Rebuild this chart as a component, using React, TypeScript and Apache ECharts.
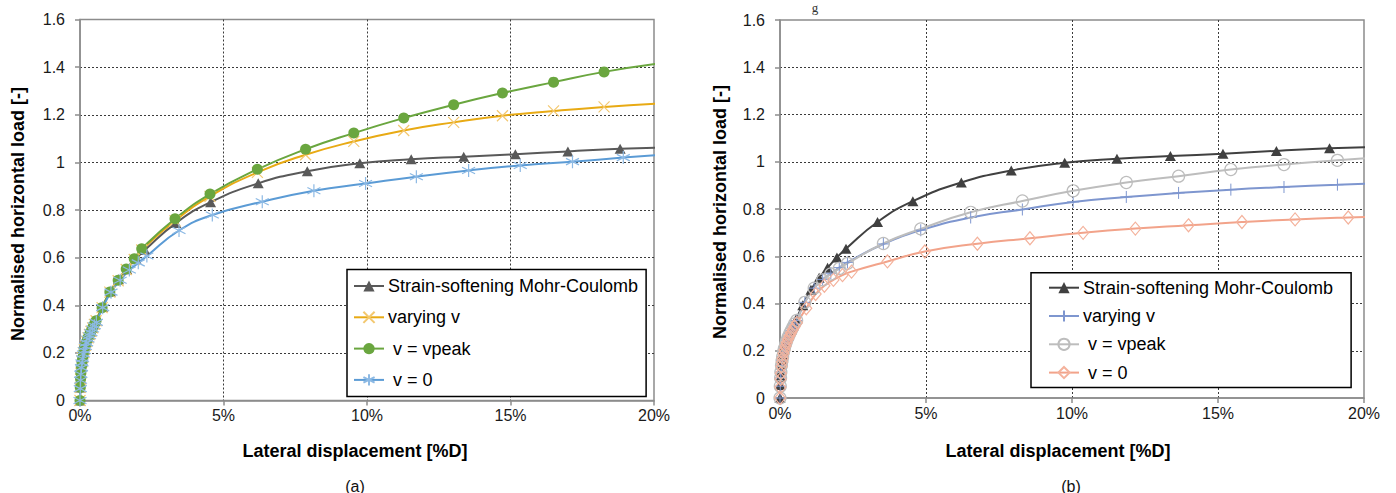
import React, { useEffect, useRef } from "react";
import * as echarts from "echarts";

const FONT = '"Liberation Sans", Arial, Helvetica, sans-serif';

// ---------- Shared: Strain-softening Mohr-Coulomb ----------
const mcX = [0, 0.01, 0.02, 0.03, 0.05, 0.07, 0.09, 0.12, 0.15, 0.19, 0.23, 0.28, 0.33, 0.38, 0.44, 0.5, 0.56, 0.78, 1.06, 1.34, 1.63, 1.95, 2.26, 3.34, 4.55, 6.21, 7.92, 9.75, 11.54, 13.37, 15.17, 17.0, 18.82, 20.64];
const mcY = [0, 0.055, 0.09, 0.115, 0.143, 0.163, 0.18, 0.2, 0.215, 0.232, 0.247, 0.263, 0.277, 0.29, 0.305, 0.32, 0.335, 0.393, 0.458, 0.509, 0.551, 0.595, 0.632, 0.745, 0.833, 0.912, 0.963, 0.996, 1.013, 1.024, 1.034, 1.046, 1.057, 1.062];

// ---------- Chart (a) ----------
const aPeakX = [0, 0.01, 0.02, 0.03, 0.05, 0.07, 0.09, 0.12, 0.15, 0.19, 0.23, 0.28, 0.33, 0.38, 0.44, 0.5, 0.56, 0.77, 1.04, 1.33, 1.61, 1.89, 2.15, 3.31, 4.53, 6.18, 7.86, 9.54, 11.28, 13.02, 14.72, 16.5, 18.26, 20.1];
const aPeakY = [0, 0.055, 0.09, 0.115, 0.143, 0.163, 0.18, 0.2, 0.215, 0.232, 0.247, 0.263, 0.277, 0.29, 0.305, 0.32, 0.335, 0.39, 0.456, 0.505, 0.552, 0.595, 0.637, 0.763, 0.867, 0.971, 1.055, 1.123, 1.186, 1.242, 1.291, 1.337, 1.38, 1.414];
const aVaryX = [0, 0.01, 0.02, 0.03, 0.05, 0.07, 0.09, 0.12, 0.15, 0.19, 0.23, 0.28, 0.33, 0.38, 0.44, 0.5, 0.56, 0.77, 1.04, 1.33, 1.61, 1.89, 2.15, 3.31, 4.53, 6.18, 7.86, 9.54, 11.28, 13.02, 14.72, 16.5, 18.26, 20.1];
const aVaryY = [0, 0.055, 0.09, 0.115, 0.143, 0.163, 0.18, 0.2, 0.215, 0.232, 0.247, 0.263, 0.277, 0.29, 0.305, 0.32, 0.335, 0.39, 0.455, 0.503, 0.55, 0.592, 0.632, 0.755, 0.857, 0.958, 1.032, 1.088, 1.134, 1.168, 1.196, 1.216, 1.233, 1.247];
const aZeroX = [0, 0.01, 0.02, 0.03, 0.05, 0.07, 0.09, 0.12, 0.15, 0.19, 0.23, 0.28, 0.33, 0.38, 0.44, 0.5, 0.57, 0.79, 1.08, 1.4, 1.72, 2.03, 2.33, 3.45, 4.61, 6.35, 8.15, 9.95, 11.72, 13.54, 15.34, 17.16, 18.93, 20.73];
const aZeroY = [0, 0.05, 0.085, 0.11, 0.138, 0.158, 0.175, 0.195, 0.21, 0.227, 0.242, 0.258, 0.272, 0.285, 0.3, 0.314, 0.328, 0.39, 0.455, 0.505, 0.548, 0.578, 0.607, 0.714, 0.779, 0.835, 0.881, 0.911, 0.94, 0.966, 0.987, 1.003, 1.02, 1.036];

// ---------- Chart (b) ----------
const bPeakX = [0, 0.01, 0.02, 0.03, 0.05, 0.07, 0.09, 0.12, 0.15, 0.19, 0.23, 0.28, 0.33, 0.38, 0.44, 0.5, 0.57, 0.85, 1.17, 1.46, 1.74, 2.03, 2.31, 3.54, 4.82, 6.53, 8.3, 10.04, 11.86, 13.65, 15.44, 17.26, 19.09, 20.9];
const bPeakY = [0, 0.05, 0.085, 0.11, 0.138, 0.158, 0.175, 0.195, 0.21, 0.227, 0.242, 0.258, 0.272, 0.285, 0.3, 0.314, 0.328, 0.405, 0.465, 0.5, 0.525, 0.548, 0.57, 0.654, 0.716, 0.786, 0.834, 0.877, 0.912, 0.939, 0.967, 0.988, 1.006, 1.022];
const bVaryX = [0, 0.01, 0.02, 0.03, 0.05, 0.07, 0.09, 0.12, 0.15, 0.19, 0.23, 0.28, 0.33, 0.38, 0.44, 0.5, 0.57, 0.85, 1.17, 1.46, 1.74, 2.03, 2.31, 3.54, 4.82, 6.53, 8.3, 10.04, 11.86, 13.65, 15.44, 17.26, 19.09, 20.9];
const bVaryY = [0, 0.05, 0.085, 0.11, 0.138, 0.158, 0.175, 0.195, 0.21, 0.227, 0.242, 0.258, 0.272, 0.285, 0.3, 0.314, 0.328, 0.405, 0.465, 0.502, 0.528, 0.552, 0.574, 0.652, 0.71, 0.764, 0.798, 0.83, 0.851, 0.868, 0.882, 0.893, 0.903, 0.911];
const bZeroX = [0, 0.01, 0.02, 0.03, 0.05, 0.07, 0.09, 0.12, 0.15, 0.19, 0.23, 0.28, 0.33, 0.38, 0.44, 0.5, 0.58, 0.9, 1.22, 1.52, 1.83, 2.14, 2.45, 3.68, 4.96, 6.76, 8.56, 10.38, 12.17, 13.99, 15.82, 17.64, 19.46, 21.28];
const bZeroY = [0, 0.045, 0.08, 0.105, 0.133, 0.152, 0.168, 0.188, 0.203, 0.22, 0.235, 0.25, 0.263, 0.276, 0.29, 0.303, 0.318, 0.38, 0.44, 0.475, 0.5, 0.52, 0.535, 0.578, 0.62, 0.653, 0.676, 0.699, 0.717, 0.731, 0.745, 0.756, 0.764, 0.77];

const seriesNames = ["Strain-softening Mohr-Coulomb", "varying v", " v = vpeak", " v = 0"];
const xAxisTitle = "Lateral displacement [%D]";
const yAxisTitle = "Normalised horizontal load [-]";

const CROSS = "path://M0,0L10,10M10,0L0,10";
const STAR = "path://M5,0L5,10M0.7,2.5L9.3,7.5M9.3,2.5L0.7,7.5";
const PLUS = "path://M5,0L5,10M0,5L10,5";

function pts(xs: number[], ys: number[]) {
  return xs.map((x, i) => [x, ys[i]]);
}

function mk(
  name: string,
  xs: number[],
  ys: number[],
  lineColor: string,
  symbol: string,
  size: number | number[],
  itemStyle: any
) {
  return {
    name,
    type: "line",
    data: pts(xs, ys),
    smooth: 0.5,
    symbol,
    symbolSize: size,
    showSymbol: true,
    showAllSymbol: true,
    clip: true,
    silent: true,
    lineStyle: { color: lineColor, width: 2 },
    itemStyle,
    emphasis: { disabled: true },
  };
}

function baseOption(cfg: any) {
  const axisGrey = "#8c8c8c";
  return {
    animation: false,
    backgroundColor: "#ffffff",
    grid: {
      left: cfg.grid.left,
      top: cfg.grid.top,
      width: cfg.grid.width,
      height: cfg.grid.height,
      show: true,
      borderColor: axisGrey,
      borderWidth: 1.5,
      backgroundColor: "transparent",
    },
    xAxis: {
      type: "value",
      min: 0,
      max: 20,
      interval: 5,
      axisLine: { show: true, onZero: false, lineStyle: { color: axisGrey, width: 1.5 } },
      axisTick: { show: true, length: 5, lineStyle: { color: axisGrey, width: 1.5 } },
      axisLabel: {
        formatter: "{value}%",
        fontSize: 16,
        fontFamily: FONT,
        color: "#1a1a1a",
        margin: 7,
      },
      splitLine: {
        show: true,
        showMinLine: false,
        showMaxLine: false,
        lineStyle: { color: "#3a3a3a", type: [2, 2], width: 1 },
      },
    },
    yAxis: {
      type: "value",
      min: 0,
      max: 1.6,
      interval: 0.2,
      axisLine: { show: true, onZero: false, lineStyle: { color: axisGrey, width: 1.5 } },
      axisTick: { show: true, length: 5, lineStyle: { color: axisGrey, width: 1.5 } },
      axisLabel: {
        formatter: (v: number) => String(parseFloat(v.toFixed(1))),
        fontSize: 16,
        fontFamily: FONT,
        color: "#1a1a1a",
        margin: 15,
      },
      splitLine: {
        show: true,
        showMinLine: false,
        showMaxLine: false,
        lineStyle: { color: "#3a3a3a", type: [2, 2], width: 1 },
      },
    },
    legend: {
      orient: "vertical",
      left: cfg.legend.left,
      top: cfg.legend.top,
      padding: cfg.legend.padding,
      itemGap: cfg.legend.itemGap,
      itemWidth: 30,
      itemHeight: 14,
      borderColor: "#000",
      borderWidth: 1.5,
      backgroundColor: "#fff",
      selectedMode: false,
      data: seriesNames,
      textStyle: { fontSize: 18, fontFamily: FONT, color: "#000", padding: [0, 0, 0, -1] },
    },
    graphic: [
      {
        type: "text",
        x: cfg.yTitle[0],
        y: cfg.yTitle[1],
        rotation: Math.PI / 2,
        style: {
          text: yAxisTitle,
          font: `bold 18px ${FONT}`,
          fill: "#000",
          align: "center",
          verticalAlign: "middle",
        },
      },
      {
        type: "text",
        x: cfg.xTitle[0],
        y: cfg.xTitle[1],
        style: {
          text: xAxisTitle,
          font: `bold 18px ${FONT}`,
          fill: "#000",
          align: "center",
          verticalAlign: "middle",
        },
      },
      {
        type: "text",
        x: cfg.caption[0],
        y: cfg.caption[1],
        style: {
          text: cfg.captionText,
          font: `16px ${FONT}`,
          fill: "#111",
          align: "center",
          verticalAlign: "middle",
        },
      },
      ...(cfg.extra || []),
    ],
    series: cfg.series,
  };
}

const leftOption = baseOption({
  grid: { left: 80, top: 19.5, width: 574, height: 381 },
  legend: { left: 347, top: 269.5, padding: [7.5, 8, 7.5, 6], itemGap: 13.3 },
  yTitle: [18, 214],
  xTitle: [355, 451],
  caption: [355, 486],
  captionText: "(a)",
  series: [
    mk(seriesNames[0], mcX, mcY, "#595959", "triangle", [11, 10], { color: "#595959" }),
    mk(seriesNames[1], aVaryX, aVaryY, "#E8AA14", CROSS, 11, {
      color: "#F3C870",
      borderColor: "#F3C870",
      borderWidth: 1.2,
    }),
    mk(seriesNames[2], aPeakX, aPeakY, "#6AA63F", "circle", 11, { color: "#6AA63F" }),
    mk(seriesNames[3], aZeroX, aZeroY, "#5B9BD5", STAR, 13, {
      color: "#8CB9E4",
      borderColor: "#8CB9E4",
      borderWidth: 1.2,
    }),
  ],
});

const rightOption = baseOption({
  grid: { left: 80, top: 20, width: 584, height: 378 },
  legend: { left: 331, top: 272.7, padding: [6, 18, 6, 17], itemGap: 10.3 },
  yTitle: [20, 212],
  xTitle: [358, 451],
  caption: [371, 486],
  captionText: "(b)",
  extra: [
    {
      type: "text",
      x: 115,
      y: 1,
      style: {
        text: "g",
        font: '13px "Liberation Serif", serif',
        fill: "#333",
        align: "center",
        verticalAlign: "top",
      },
    },
  ],
  series: [
    mk(seriesNames[0], mcX, mcY, "#404040", "triangle", [11, 10], { color: "#404040" }),
    mk(seriesNames[1], bVaryX, bVaryY, "#7E96CF", PLUS, 12, {
      color: "#7E96CF",
      borderColor: "#7E96CF",
      borderWidth: 1,
    }),
    mk(seriesNames[2], bPeakX, bPeakY, "#BDBDBD", "circle", 12, {
      color: "rgba(255,255,255,0)",
      borderColor: "#BDBDBD",
      borderWidth: 1.2,
    }),
    mk(seriesNames[3], bZeroX, bZeroY, "#F2A38A", "diamond", [11, 13], {
      color: "rgba(255,255,255,0)",
      borderColor: "#F4B29C",
      borderWidth: 1.2,
    }),
  ],
});

function Panel({ option, style }: { option: any; style: React.CSSProperties }) {
  const ref = useRef<HTMLDivElement>(null);
  useEffect(() => {
    if (!ref.current) return;
    const chart = echarts.init(ref.current, null, { renderer: "svg" });
    chart.setOption(option);
    return () => chart.dispose();
  }, [option]);
  return <div ref={ref} style={style} />;
}

export default function App() {
  return (
    <div
      style={{
        position: "absolute",
        left: 0,
        top: 0,
        width: 1396,
        height: 493,
        background: "#fff",
        overflow: "hidden",
      }}
    >
      <Panel option={leftOption} style={{ position: "absolute", left: 0, top: 0, width: 700, height: 493 }} />
      <Panel option={rightOption} style={{ position: "absolute", left: 700, top: 0, width: 696, height: 493 }} />
    </div>
  );
}
